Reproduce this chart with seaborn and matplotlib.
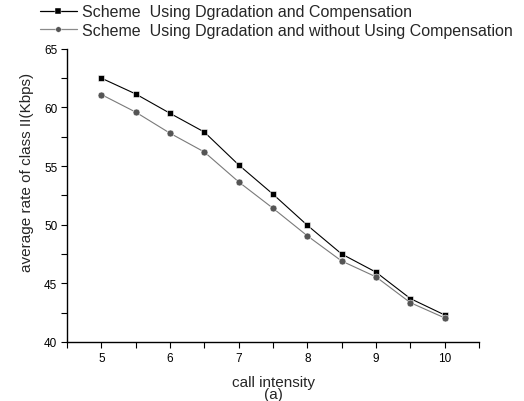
import matplotlib
matplotlib.use("Agg")
import matplotlib.pyplot as plt
import seaborn as sns
import pandas as pd
from matplotlib.ticker import MultipleLocator
from matplotlib.lines import Line2D

# data
call_intensity = [5, 5.5, 6, 6.5, 7, 7.5, 8, 8.5, 9, 9.5, 10]
rate_comp = [62.5, 61.15, 59.5, 57.9, 55.1, 52.6, 49.95, 47.5, 45.95, 43.7, 42.3]
rate_no_comp = [61.1, 59.6, 57.8, 56.2, 53.65, 51.4, 49.05, 46.9, 45.55, 43.35, 42.05]
labels = ["Scheme  Using Dgradation and Compensation",
          "Scheme  Using Dgradation and without Using Compensation"]

sns.set_theme(style="ticks")
plt.rcParams['font.family'] = ['Liberation Sans', 'DejaVu Sans']

df = pd.DataFrame({
    "x": call_intensity * 2,
    "y": rate_comp + rate_no_comp,
    "scheme": [labels[0]] * len(call_intensity) + [labels[1]] * len(call_intensity),
})

fig = plt.figure(figsize=(5.24, 4.02), dpi=100)
ax = fig.add_axes([0.128, 0.147, 0.786, 0.729])

sns.lineplot(data=df, x="x", y="y", hue="scheme", style="scheme",
             palette={labels[0]: "black", labels[1]: "#7a7a7a"},
             markers={labels[0]: "s", labels[1]: "o"}, dashes=False,
             markersize=5, linewidth=0.8, markeredgecolor="white",
             markeredgewidth=0.4, ax=ax, legend=False)
# circle markers darker than their line
ax.lines[1].set_markerfacecolor("#555555")

ax.set_xlim(4.5, 10.5)
ax.set_ylim(40, 65)
ax.xaxis.set_major_locator(MultipleLocator(1))
ax.xaxis.set_minor_locator(MultipleLocator(0.5))
ax.yaxis.set_major_locator(MultipleLocator(5))
ax.yaxis.set_minor_locator(MultipleLocator(2.5))
ax.tick_params(which="both", direction="out", length=4, width=0.8, colors="black",
               labelsize=8.5, pad=3)
sns.despine(ax=ax)
for s in ("left", "bottom"):
    ax.spines[s].set_color("black")
    ax.spines[s].set_linewidth(1.0)

ax.set_xlabel("call intensity\n(a)", fontsize=11, linespacing=0.85, labelpad=8)
ax.set_ylabel("average rate of class II(Kbps)", fontsize=11)
ax.yaxis.set_label_coords(-0.08, 0.58)

handles = [Line2D([], [], color="black", marker="s", markersize=4, linewidth=0.9,
                  markeredgecolor="white", markeredgewidth=0.3),
           Line2D([], [], color="#8a8a8a", marker="o", markersize=4, linewidth=0.9,
                  markerfacecolor="#555555", markeredgecolor="white", markeredgewidth=0.3)]
fig.legend(handles, labels, loc="upper left", bbox_to_anchor=(0.058, 1.011),
           frameon=False, fontsize=11.5, handlelength=2.3, handletextpad=0.3,
           labelspacing=0.22, borderaxespad=0.2)

fig.savefig("out.png", dpi=100)
